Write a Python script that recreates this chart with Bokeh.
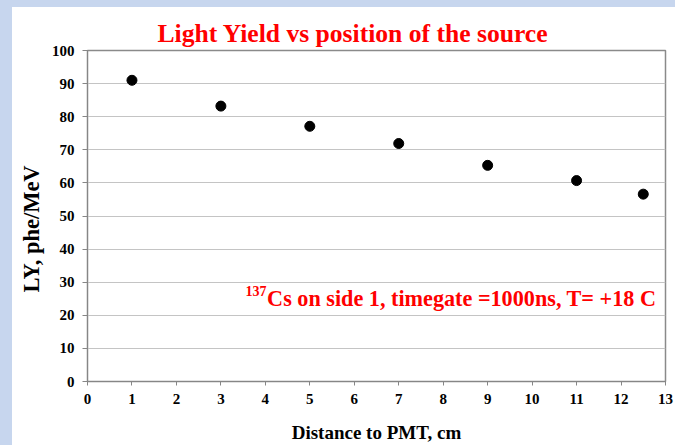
from bokeh.plotting import figure
from bokeh.models import (ColumnDataSource, Range1d, FixedTicker, Label, Title, Div)
from bokeh.layouts import column, row
from bokeh.embed import file_html
from bokeh.resources import INLINE

# Light yield measured with the source at several distances from the PMT
distance_cm = [1, 3, 5, 7, 9, 11, 12.5]
light_yield = [91.0, 83.2, 77.1, 71.9, 65.3, 60.7, 56.6]

x_ticks = list(range(0, 14))
y_ticks = list(range(0, 101, 10))

SERIF = "'Times New Roman', 'Liberation Serif', serif"
BAND = "#c7d6ee"
RED = "#ff0000"
AXIS_GREY = "#868686"

source = ColumnDataSource(data=dict(x=distance_cm, y=light_yield))

p = figure(frame_width=578, frame_height=331, output_backend="svg", toolbar_location=None,
           x_range=Range1d(0, 13), y_range=Range1d(0, 100),
           min_border_left=75, min_border_right=10,
           min_border_top=43, min_border_bottom=64, margin=0)
p.background_fill_color = "white"
p.border_fill_color = "white"
p.outline_line_color = "#8a8a8a"
p.outline_line_width = 1.5

p.title = Title(text="Light Yield vs position of the source", align="left",
                offset=70, standoff=6, text_color=RED, text_font=SERIF,
                text_font_style="bold", text_font_size="25.6px")

# axes
for ax in (p.xaxis[0], p.yaxis[0]):
    ax.axis_line_color = AXIS_GREY
    ax.axis_line_width = 1
    ax.major_tick_line_color = AXIS_GREY
    ax.major_tick_in = 0
    ax.minor_tick_line_color = None
    ax.major_label_text_font = SERIF
    ax.major_label_text_font_style = "bold"
    ax.major_label_text_font_size = "15px"
    ax.major_label_text_color = "black"

p.xaxis.ticker = FixedTicker(ticks=x_ticks)
p.yaxis.ticker = FixedTicker(ticks=y_ticks)
p.xaxis.major_tick_out = 4
p.yaxis.major_tick_out = 5
p.xaxis.major_label_standoff = 8
p.yaxis.major_label_standoff = 8

# x axis title
p.xaxis.axis_label = "Distance to PMT, cm"
p.xaxis.axis_label_standoff = 15
p.xaxis.axis_label_text_font = SERIF
p.xaxis.axis_label_text_font_style = "bold"
p.xaxis.axis_label_text_font_size = "19px"
p.xaxis.axis_label_text_color = "black"

# y axis title, placed as a side title so it can sit off-centre
p.add_layout(Title(text="LY, phe/MeV", align="left", offset=89, standoff=9,
                   text_font=SERIF, text_font_style="bold", text_font_size="22.5px",
                   text_color="black"), "left")

p.xgrid.grid_line_color = None
p.ygrid.grid_line_color = "#c4c4c4"
p.ygrid.grid_line_width = 1.2

p.scatter("x", "y", source=source, marker="circle", size=10,
          fill_color="black", line_color="black")

# measurement conditions
p.add_layout(Label(x=3.554, y=27.2, text="137", text_align="left",
                   text_baseline="alphabetic", text_font=SERIF, text_font_style="bold",
                   text_font_size="14px", text_color=RED))
p.add_layout(Label(x=4.04, y=25.2, text="Cs on side 1, timegate =1000ns, T= +18 C",
                   text_align="left", text_baseline="alphabetic", text_font=SERIF,
                   text_font_style="bold", text_font_size="22.2px", text_color=RED))

top_band = Div(width=675, height=7, margin=0, styles={"background-color": BAND})
left_band = Div(width=12, height=438, margin=0, styles={"background-color": BAND})
page = column(top_band, row(left_band, p, spacing=0, margin=0), spacing=0, margin=0)

open("out.html", "w").write(file_html(page, INLINE))
